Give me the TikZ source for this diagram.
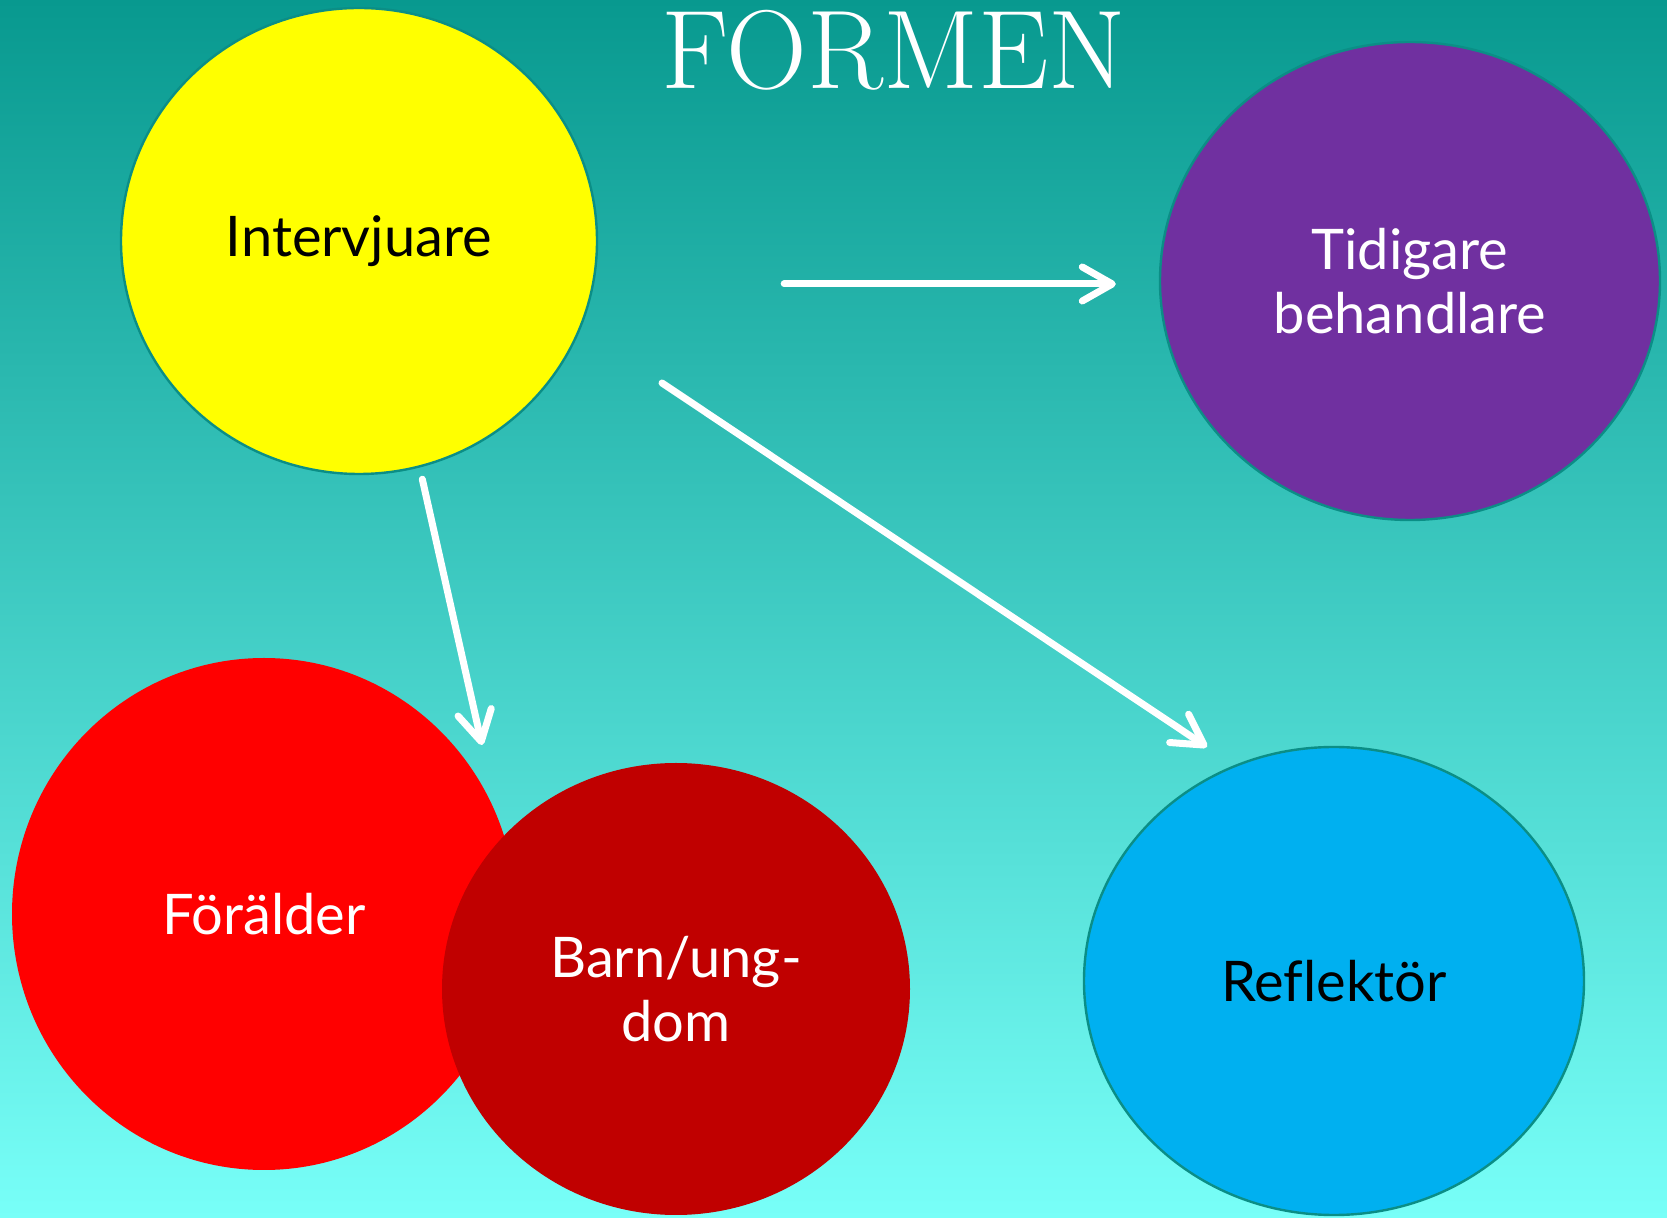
\documentclass[tikz,border=0pt]{standalone}
\usepackage{fontspec}
\newfontfamily\bodyfont[Ligatures=NoCommon]{Lato}
\usetikzlibrary{shapes.geometric,arrows.meta}

\definecolor{bgtop}{HTML}{08998F}
\definecolor{bgbottom}{HTML}{78FFF8}
\definecolor{rim}{HTML}{0B8E86}
\definecolor{gul}{HTML}{FFFF00}
\definecolor{lila}{HTML}{7030A0}
\definecolor{rod}{HTML}{FF0000}
\definecolor{morkrod}{HTML}{C00000}
\definecolor{bla}{HTML}{00B0F0}

\tikzset{
  basic/.style  = {ellipse, inner sep=0pt, align=center, font=\bodyfont\fontsize{28}{32}\selectfont},
  role/.style   = {basic, draw=rim, line width=1.2pt},
  pair/.style   = {basic},
  arr/.style    = {draw=white, line width=3.5pt, line cap=round,
                   -{Straight Barb[length=15pt,width=17pt,round]}}
}

\begin{document}
\begin{tikzpicture}[x=0.5pt,y=0.5pt]

% background
\shade[top color=bgtop, bottom color=bgbottom] (0,0) rectangle (1667,-1218);
\useasboundingbox (0,0) rectangle (1667,-1218);

% title
\node[text=white, font=\fontsize{56}{60}\selectfont] (title) at (894,-50) {FORMEN};

% the roles
\node[role, fill=gul, minimum width=238pt, minimum height=233pt] (int) at (359,-241) {Intervjuare};
\node[role, fill=lila, text=white, minimum width=250pt, minimum height=239pt] (tid) at (1410,-281) {Tidigare\\behandlare};
\node[role, fill=bla, minimum width=250pt, minimum height=234pt] (refl) at (1334,-981) {Reflektör};

% parent and child, overlapping
\node[pair, fill=rod, text=white, minimum width=252pt, minimum height=256pt] (foral) at (264,-914) {Förälder};
\node[pair, fill=morkrod, text=white, minimum width=234pt, minimum height=226pt] (barn) at (676,-989) {Barn/ung-\\dom};

% arrow ends
\coordinate (a2) at (482,-745);
\coordinate (a3s) at (662,-383);
\coordinate (a3) at (1207,-747);

% arrows
\draw[arr, shorten <=186*0.5pt, shorten >=43*0.5pt] ([yshift=-1.5pt]int.east |- tid.west) -- ([yshift=-1.5pt]tid.west);
\draw[arr, shorten <=6pt] (int.-75) -- (a2);
\draw[arr] (a3s) -- (a3);
\end{tikzpicture}
\end{document}
